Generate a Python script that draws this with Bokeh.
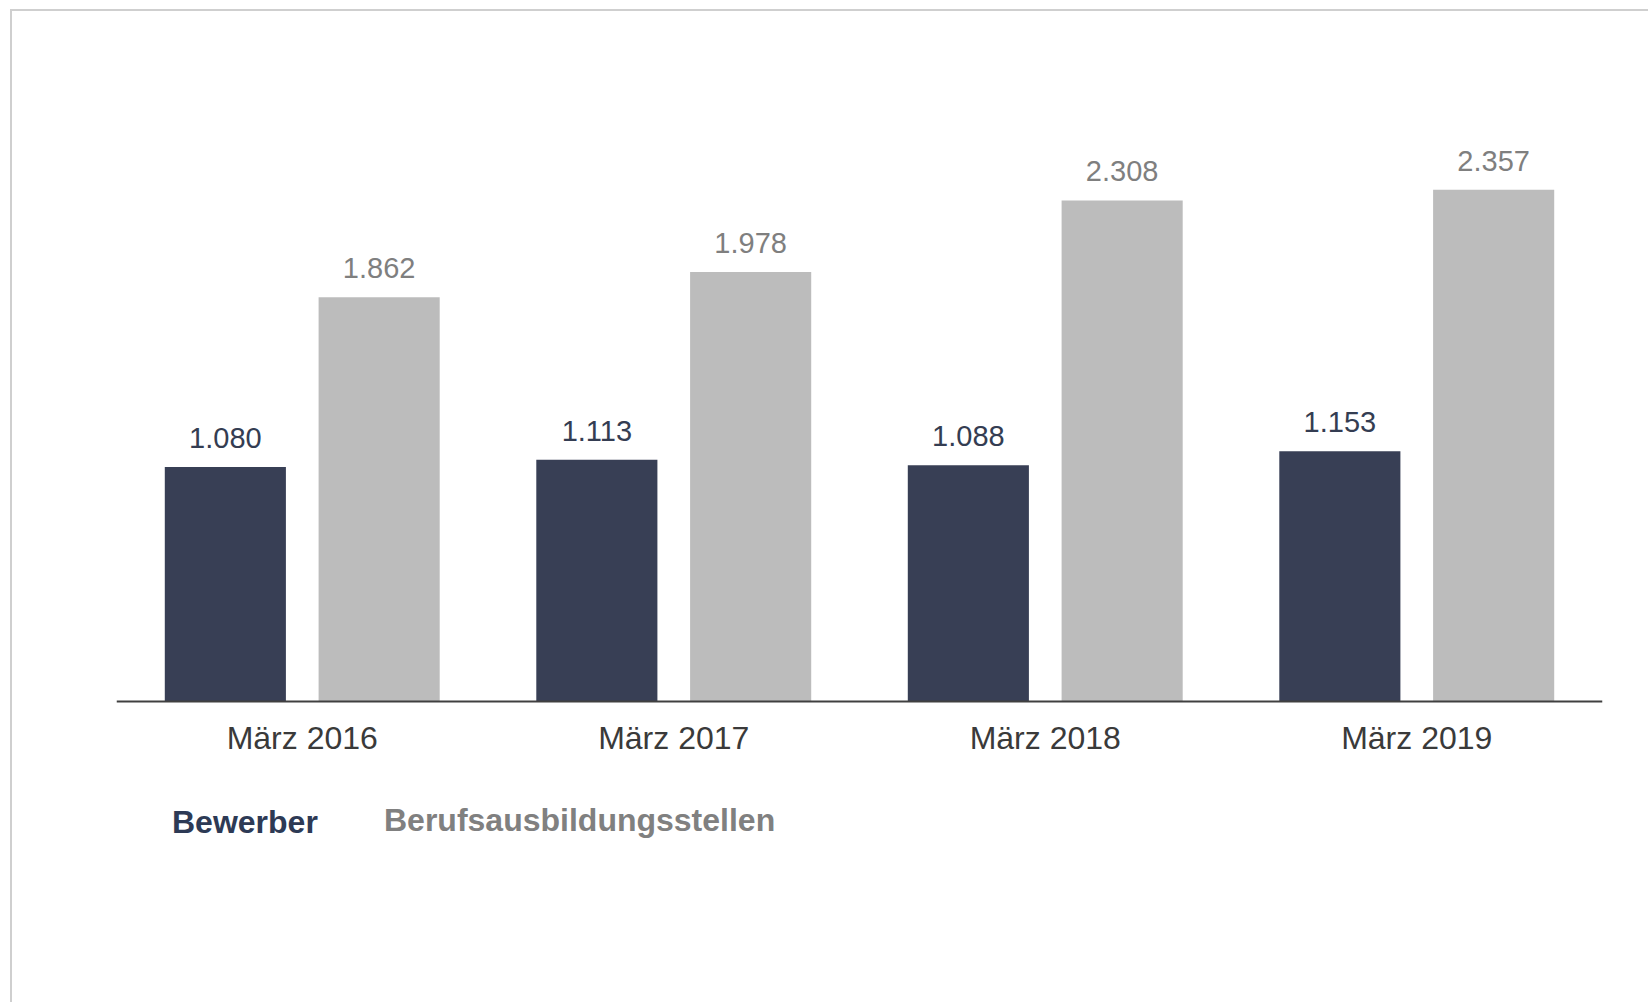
from bokeh.plotting import figure
from bokeh.models import FactorRange, Range1d, ColumnDataSource, Legend, LegendItem
from bokeh.transform import dodge
from bokeh.core.properties import value
from bokeh.embed import file_html
from bokeh.resources import INLINE

categories = ["März 2016", "März 2017", "März 2018", "März 2019"]
bewerber = [1080, 1113, 1088, 1153]
stellen = [1862, 1978, 2308, 2357]
series_names = ["Bewerber", "Berufsausbildungsstellen"]


def fmt(v):
    return f"{v:,}".replace(",", ".")


src = ColumnDataSource(dict(
    cat=categories,
    bewerber=bewerber,
    stellen=stellen,
    bew_lbl=[fmt(v) for v in bewerber],
    st_lbl=[fmt(v) for v in stellen],
))

FONT = "Liberation Sans"
DARK = "#383f55"
GRAY = "#bcbcbc"

p = figure(
    x_range=FactorRange(*categories),
    y_range=Range1d(-921, 3049),
    width=1638, height=993,
    output_backend="svg", toolbar_location=None,
    min_border_left=104, min_border_right=48,
    min_border_top=28, min_border_bottom=103,
)
p.styles = {"border-top": "2px solid #cfcfcf", "border-left": "2px solid #cfcfcf",
            "margin-top": "9px", "margin-left": "10px"}

r1 = p.vbar(x=dodge("cat", -0.207, range=p.x_range), top="bewerber", width=0.326,
            source=src, fill_color=DARK, line_color=None)
r2 = p.vbar(x=dodge("cat", 0.207, range=p.x_range), top="stellen", width=0.326,
            source=src, fill_color=GRAY, line_color=None)

p.text(x=dodge("cat", -0.207, range=p.x_range), y="bewerber", text="bew_lbl", source=src,
       text_align="center", text_baseline="alphabetic", y_offset=-29,
       text_font=value(FONT), text_font_size="29px", text_color="#343d52")
p.text(x=dodge("cat", 0.207, range=p.x_range), y="stellen", text="st_lbl", source=src,
       text_align="center", text_baseline="alphabetic", y_offset=-29,
       text_font=value(FONT), text_font_size="29px", text_color="#7f7f7f")

p.xaxis.fixed_location = 0
p.xaxis.axis_line_color = "#404040"
p.xaxis.axis_line_width = 2
p.xaxis.major_tick_line_color = None
p.xaxis.minor_tick_line_color = None
p.xaxis.major_label_text_font = FONT
p.xaxis.major_label_text_font_size = "32px"
p.xaxis.major_label_text_color = "#3a3a3a"
p.xaxis.major_label_standoff = 12
p.yaxis.visible = False
p.xgrid.grid_line_color = None
p.ygrid.grid_line_color = None
p.outline_line_color = None

for name, rend, color, loc in [(series_names[0], r1, "#2d3a55", (56, 60)),
                               (series_names[1], r2, "#808080", (268, 62))]:
    lg = Legend(items=[LegendItem(label=name, renderers=[rend])], location=loc,
                glyph_width=0, glyph_height=34, label_height=34, label_standoff=0,
                padding=0, margin=0, border_line_color=None, background_fill_alpha=0,
                label_text_font=FONT, label_text_font_size="32px",
                label_text_font_style="bold", label_text_color=color)
    p.add_layout(lg, "center")

open("out.html", "w").write(file_html(p, INLINE))
